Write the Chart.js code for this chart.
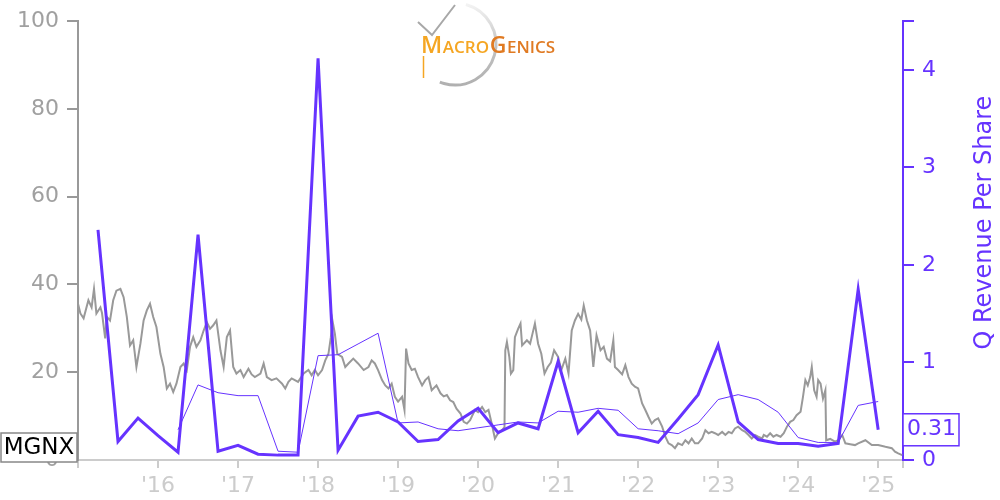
<!DOCTYPE html>
<html>
<head>
<meta charset="utf-8">
<script src="https://cdn.jsdelivr.net/npm/chart.js@4.4.0/dist/chart.umd.min.js"></script>
<style>
  body { margin: 0; background: #fff; }
  #wrap { width: 1000px; height: 500px; }
</style>
</head>
<body>
<div id="wrap"><canvas id="chart" width="1000" height="500"></canvas></div>
<script>
// MacroGenics (MGNX): share price vs quarterly revenue per share

const ticker = 'MGNX';
const rightTitle = 'Q Revenue Per Share';
const yearTicks = [2016, 2017, 2018, 2019, 2020, 2021, 2022, 2023, 2024, 2025];

// quarter end dates as decimal years
const quarterDates = [
    2015.25, 2015.5, 2015.75, 2016.0, 2016.25, 2016.5, 2016.75, 2017.0,
    2017.25, 2017.5, 2017.75, 2018.0, 2018.25, 2018.5, 2018.75, 2019.0,
    2019.25, 2019.5, 2019.75, 2020.0, 2020.25, 2020.5, 2020.75, 2021.0,
    2021.25, 2021.5, 2021.75, 2022.0, 2022.25, 2022.5, 2022.75, 2023.0,
    2023.25, 2023.5, 2023.75, 2024.0, 2024.25, 2024.5, 2024.75, 2025.0
];

// Q revenue per share (thick line)
const qRevenue = [
    2.36, 0.19, 0.43, 0.25, 0.08, 2.31, 0.09, 0.15,
    0.06, 0.05, 0.05, 4.12, 0.10, 0.45, 0.49, 0.39,
    0.19, 0.21, 0.40, 0.53, 0.28, 0.38, 0.32, 1.01,
    0.28, 0.50, 0.26, 0.23, 0.18, 0.42, 0.67, 1.18,
    0.39, 0.21, 0.17, 0.17, 0.14, 0.17, 1.75, 0.31
];

// trailing 4-quarter average (thin line), starts with Q1 2016
const qRevenueAvg = [
    null, null, null, null, 0.31, 0.77, 0.69, 0.66,
    0.66, 0.09, 0.08, 1.07, 1.08, 1.19, 1.30, 0.38,
    0.39, 0.32, 0.30, 0.33, 0.36, 0.39, 0.38, 0.50,
    0.49, 0.53, 0.51, 0.32, 0.30, 0.27, 0.38, 0.62,
    0.67, 0.62, 0.49, 0.23, 0.18, 0.18, 0.56, 0.60
];

// share price
const priceDates = [
    2015.00, 2015.03, 2015.07, 2015.13, 2015.17, 2015.20, 2015.23, 2015.28, 2015.30, 2015.34,
    2015.36, 2015.40, 2015.44, 2015.48, 2015.53, 2015.57, 2015.61, 2015.65, 2015.69, 2015.73,
    2015.78, 2015.82, 2015.86, 2015.90, 2015.94, 2015.98,
    2016.03, 2016.07, 2016.11, 2016.15, 2016.19, 2016.23, 2016.28, 2016.32, 2016.36, 2016.40,
    2016.44, 2016.48, 2016.53, 2016.57, 2016.61, 2016.65, 2016.69, 2016.73, 2016.78, 2016.82,
    2016.86, 2016.90, 2016.94, 2016.98,
    2017.03, 2017.07, 2017.13, 2017.17, 2017.21, 2017.28, 2017.32, 2017.36, 2017.42, 2017.48,
    2017.55, 2017.59, 2017.63, 2017.67, 2017.71, 2017.75, 2017.82, 2017.88, 2017.92, 2017.96,
    2018.00, 2018.05, 2018.09, 2018.13, 2018.16, 2018.18, 2018.21, 2018.24, 2018.30, 2018.34,
    2018.38, 2018.44, 2018.50, 2018.57, 2018.63, 2018.67, 2018.71, 2018.75, 2018.80, 2018.84,
    2018.88, 2018.92, 2018.96,
    2019.00, 2019.05, 2019.08, 2019.10, 2019.13, 2019.17, 2019.21, 2019.25, 2019.30, 2019.34,
    2019.38, 2019.42, 2019.48, 2019.53, 2019.57, 2019.61, 2019.65, 2019.69, 2019.73, 2019.78,
    2019.82, 2019.86, 2019.90, 2019.96,
    2020.00, 2020.05, 2020.09, 2020.13, 2020.17, 2020.21, 2020.25, 2020.30, 2020.33, 2020.34,
    2020.36, 2020.39, 2020.41, 2020.44, 2020.46, 2020.50, 2020.53, 2020.55, 2020.61, 2020.65,
    2020.68, 2020.71, 2020.75, 2020.79, 2020.83, 2020.87, 2020.91, 2020.95,
    2021.00, 2021.04, 2021.09, 2021.13, 2021.17, 2021.21, 2021.25, 2021.29, 2021.32, 2021.36,
    2021.40, 2021.44, 2021.48, 2021.53, 2021.57, 2021.61, 2021.65, 2021.69, 2021.71, 2021.75,
    2021.80, 2021.84, 2021.88, 2021.92, 2021.96,
    2022.00, 2022.05, 2022.09, 2022.13, 2022.17, 2022.21, 2022.25, 2022.30, 2022.34, 2022.38,
    2022.42, 2022.46, 2022.50, 2022.55, 2022.59, 2022.63, 2022.67, 2022.71, 2022.75, 2022.80,
    2022.84, 2022.88, 2022.92, 2022.96,
    2023.00, 2023.05, 2023.09, 2023.13, 2023.17, 2023.21, 2023.25, 2023.30, 2023.34, 2023.38,
    2023.42, 2023.46, 2023.50, 2023.55, 2023.57, 2023.61, 2023.65, 2023.69, 2023.73, 2023.78,
    2023.82, 2023.86, 2023.90, 2023.94, 2023.98,
    2024.03, 2024.06, 2024.09, 2024.12, 2024.15, 2024.17, 2024.20, 2024.23, 2024.25, 2024.28,
    2024.31, 2024.34, 2024.35, 2024.40, 2024.46, 2024.50, 2024.55, 2024.59, 2024.65, 2024.71,
    2024.75, 2024.84, 2024.92,
    2025.00, 2025.09, 2025.17, 2025.21, 2025.25, 2025.30
];
const priceValues = [
    35.6, 33.4, 32.3, 36.4, 34.8, 39.0, 33.4, 34.8, 33.5, 27.7,
    32.6, 31.8, 36.4, 38.6, 39.0, 37.1, 32.6, 26.1, 27.3, 21.2,
    26.5, 31.8, 34.1, 35.6, 32.6, 30.3,
    24.2, 21.2, 16.3, 17.4, 15.5, 17.4, 21.2, 22.0, 20.5, 25.8,
    28.0, 25.8, 27.3, 29.5, 31.4, 29.9, 30.7, 31.8, 25.0, 21.2,
    28.0, 29.5, 21.2, 19.7,
    20.5, 18.9, 20.8, 19.5, 18.9, 19.7, 22.0, 18.9, 18.2, 18.6,
    17.4, 16.3, 17.8, 18.6, 18.2, 17.8, 19.7, 20.5, 19.3, 20.5,
    19.3, 20.5, 22.7, 24.2, 28.0, 31.8, 28.8, 24.2, 23.5, 21.2,
    22.0, 23.1, 22.0, 20.5, 21.2, 22.7, 22.0, 20.5, 18.2, 17.0,
    16.3, 17.4, 14.4,
    13.3, 14.4, 11.4, 25.4, 22.0, 20.5, 20.8, 18.9, 17.0, 18.2,
    18.9, 15.9, 17.0, 15.2, 14.5, 14.8, 13.6, 13.2, 11.7, 10.6,
    8.7, 8.3, 9.1, 11.4,
    10.9, 12.1, 10.9, 11.4, 8.3, 4.9, 6.1, 6.8, 7.5, 25.0,
    26.9, 23.5, 19.7, 20.5, 28.0, 29.9, 31.1, 26.1, 27.3, 26.5,
    28.8, 31.1, 26.5, 24.2, 19.7, 21.2, 22.2, 25.0,
    23.5, 20.5, 23.1, 19.7, 29.5, 31.8, 33.3, 32.0, 35.2, 31.8,
    29.5, 21.2, 28.4, 25.0, 25.8, 23.1, 22.5, 27.3, 21.2, 20.5,
    19.5, 21.6, 18.9, 17.4, 16.7,
    16.3, 12.9, 11.4, 9.8, 8.3, 9.1, 9.5, 7.6, 5.3, 3.8,
    3.4, 2.7, 3.8, 3.4, 4.5, 3.8, 4.9, 3.8, 3.8, 4.9,
    6.8, 6.1, 6.4, 6.1,
    5.7, 6.4, 5.7, 6.4, 6.1, 7.2, 7.6, 6.8, 6.4, 5.7,
    4.9, 5.7, 5.3, 4.9, 5.7, 5.3, 6.1, 5.3, 5.7, 5.3,
    6.1, 7.6, 8.7, 9.1, 10.2,
    11.0, 14.4, 18.2, 17.0, 18.9, 21.2, 15.9, 14.4, 18.2, 17.4,
    14.0, 15.9, 4.5, 4.8, 4.2, 4.5, 5.7, 3.8, 3.6, 3.4,
    3.8, 4.5, 3.4,
    3.4, 3.0, 2.7, 1.9, 1.5, 1.1
];

const PURPLE = '#6633ff';
const GRAY = '#999999';
const LIGHT = '#cccccc';
const FONT = 'DejaVu Sans';

function toPoints(xs, ys) {
    return xs.map((x, i) => ({ x: x, y: ys[i] }));
}

// logo, right axis title and value boxes
const overlayPlugin = {
    id: 'overlay',
    afterDraw(chart) {
        const ctx = chart.ctx;
        const area = chart.chartArea;
        const y1 = chart.scales.y1;

        // --- logo ---
        ctx.save();
        const grad = ctx.createLinearGradient(455, 3, 455, 85);
        grad.addColorStop(0, 'rgba(200,200,200,0.2)');
        grad.addColorStop(0.5, '#c4c4c4');
        grad.addColorStop(1, '#b0b0b0');
        ctx.strokeStyle = grad;
        ctx.lineWidth = 3;
        ctx.beginPath();
        ctx.arc(455, 44, 41, -1.3, 1.95);
        ctx.stroke();
        ctx.strokeStyle = '#a8a8a8';
        ctx.lineWidth = 2;
        ctx.beginPath();
        ctx.moveTo(418, 22);
        ctx.lineTo(432, 35);
        ctx.lineTo(455, 5);
        ctx.stroke();
        ctx.strokeStyle = '#f5a623';
        ctx.lineWidth = 1.5;
        ctx.beginPath();
        ctx.moveTo(423.5, 56);
        ctx.lineTo(423.5, 78);
        ctx.stroke();
        ctx.textBaseline = 'alphabetic';
        ctx.textAlign = 'left';
        let x = 421;
        const parts = [
            ['M', 23, '#f5a623'], ['ACRO', 17, '#f5a623'],
            ['G', 23, '#e07a22'], ['ENICS', 17, '#e07a22']
        ];
        parts.forEach(p => {
            ctx.font = '600 ' + p[1] + 'px "Open Sans"';
            ctx.fillStyle = p[2];
            ctx.fillText(p[0], x, 53);
            x += ctx.measureText(p[0]).width + 0.6;
        });
        ctx.restore();

        // --- right axis title, reading bottom to top ---
        ctx.save();
        ctx.translate(y1.right - 15, (area.top + area.bottom) / 2 - 18);
        ctx.rotate(-Math.PI / 2);
        ctx.font = '24px "' + FONT + '"';
        ctx.fillStyle = PURPLE;
        ctx.textAlign = 'center';
        ctx.textBaseline = 'middle';
        ctx.fillText(rightTitle, 0, 0);
        ctx.restore();

        // --- ticker box at left ---
        ctx.save();
        ctx.font = '23px "' + FONT + '"';
        ctx.fillStyle = '#fff';
        ctx.fillRect(1, area.bottom - 27, 76, 29);
        ctx.strokeStyle = '#888';
        ctx.lineWidth = 1.5;
        ctx.strokeRect(1, area.bottom - 27, 76, 29);
        ctx.fillStyle = '#000';
        ctx.textAlign = 'center';
        ctx.textBaseline = 'middle';
        ctx.fillText(ticker, 39, area.bottom - 12);

        // --- last value box at right ---
        ctx.font = '22px "' + FONT + '"';
        const last = qRevenue[qRevenue.length - 1];
        const py = y1.getPixelForValue(last);
        ctx.fillStyle = '#fff';
        ctx.fillRect(area.right, py - 16, 56, 32);
        ctx.strokeStyle = PURPLE;
        ctx.strokeRect(area.right, py - 16, 56, 32);
        ctx.fillStyle = PURPLE;
        ctx.fillText(last.toFixed(2), area.right + 28.5, py);
        ctx.restore();
    }
};

const ctx = document.getElementById('chart').getContext('2d');

new Chart(ctx, {
    type: 'line',
    data: {
        datasets: [
            {
                label: 'Q Revenue Per Share',
                data: toPoints(quarterDates, qRevenue),
                yAxisID: 'y1',
                borderColor: PURPLE,
                borderWidth: 3,
                pointRadius: 0,
                tension: 0,
                order: 0
            },
            {
                label: 'TTM avg',
                data: toPoints(quarterDates, qRevenueAvg),
                yAxisID: 'y1',
                borderColor: PURPLE,
                borderWidth: 1,
                pointRadius: 0,
                tension: 0,
                spanGaps: false,
                order: 1
            },
            {
                label: 'Price',
                data: toPoints(priceDates, priceValues),
                yAxisID: 'y',
                borderColor: GRAY,
                borderWidth: 2,
                pointRadius: 0,
                tension: 0,
                order: 2
            }
        ]
    },
    options: {
        responsive: false,
        animation: false,
        layout: { padding: { top: 20, left: 0, right: 0, bottom: 0 } },
        plugins: {
            legend: { display: false },
            tooltip: { enabled: false }
        },
        scales: {
            x: {
                type: 'linear',
                min: 2015,
                max: 2025.31,
                afterFit: s => { s.height = 40; },
                afterBuildTicks: s => {
                    s.ticks = [2015].concat(yearTicks, [2025.31]).map(v => ({ value: v }));
                },
                grid: {
                    drawOnChartArea: false,
                    drawTicks: true,
                    tickLength: 8,
                    color: LIGHT,
                    lineWidth: 2
                },
                border: { display: true, color: LIGHT, width: 2 },
                ticks: {
                    autoSkip: false,
                    maxRotation: 0,
                    padding: 5,
                    color: LIGHT,
                    font: { family: FONT, size: 22 },
                    callback: v => yearTicks.includes(v) ? "'" + String(v).slice(2) : ''
                }
            },
            y: {
                position: 'left',
                min: 0,
                max: 100,
                afterFit: s => { s.width = 78; },
                grid: {
                    drawOnChartArea: false,
                    drawTicks: true,
                    tickLength: 11,
                    color: GRAY,
                    lineWidth: 2
                },
                border: { display: true, color: GRAY, width: 2 },
                ticks: {
                    stepSize: 20,
                    padding: 8,
                    color: '#a0a0a0',
                    font: { family: FONT, size: 22 }
                }
            },
            y1: {
                position: 'right',
                min: 0,
                max: 4.5,
                afterFit: s => { s.width = 97; },
                grid: {
                    drawOnChartArea: false,
                    drawTicks: true,
                    tickLength: 11,
                    color: PURPLE,
                    lineWidth: 2
                },
                border: { display: true, color: PURPLE, width: 2 },
                ticks: {
                    stepSize: 1,
                    padding: 8,
                    color: PURPLE,
                    font: { family: FONT, size: 22 },
                    callback: v => Number.isInteger(v) ? String(v) : ''
                }
            }
        }
    },
    plugins: [overlayPlugin]
});
</script>
</body>
</html>
